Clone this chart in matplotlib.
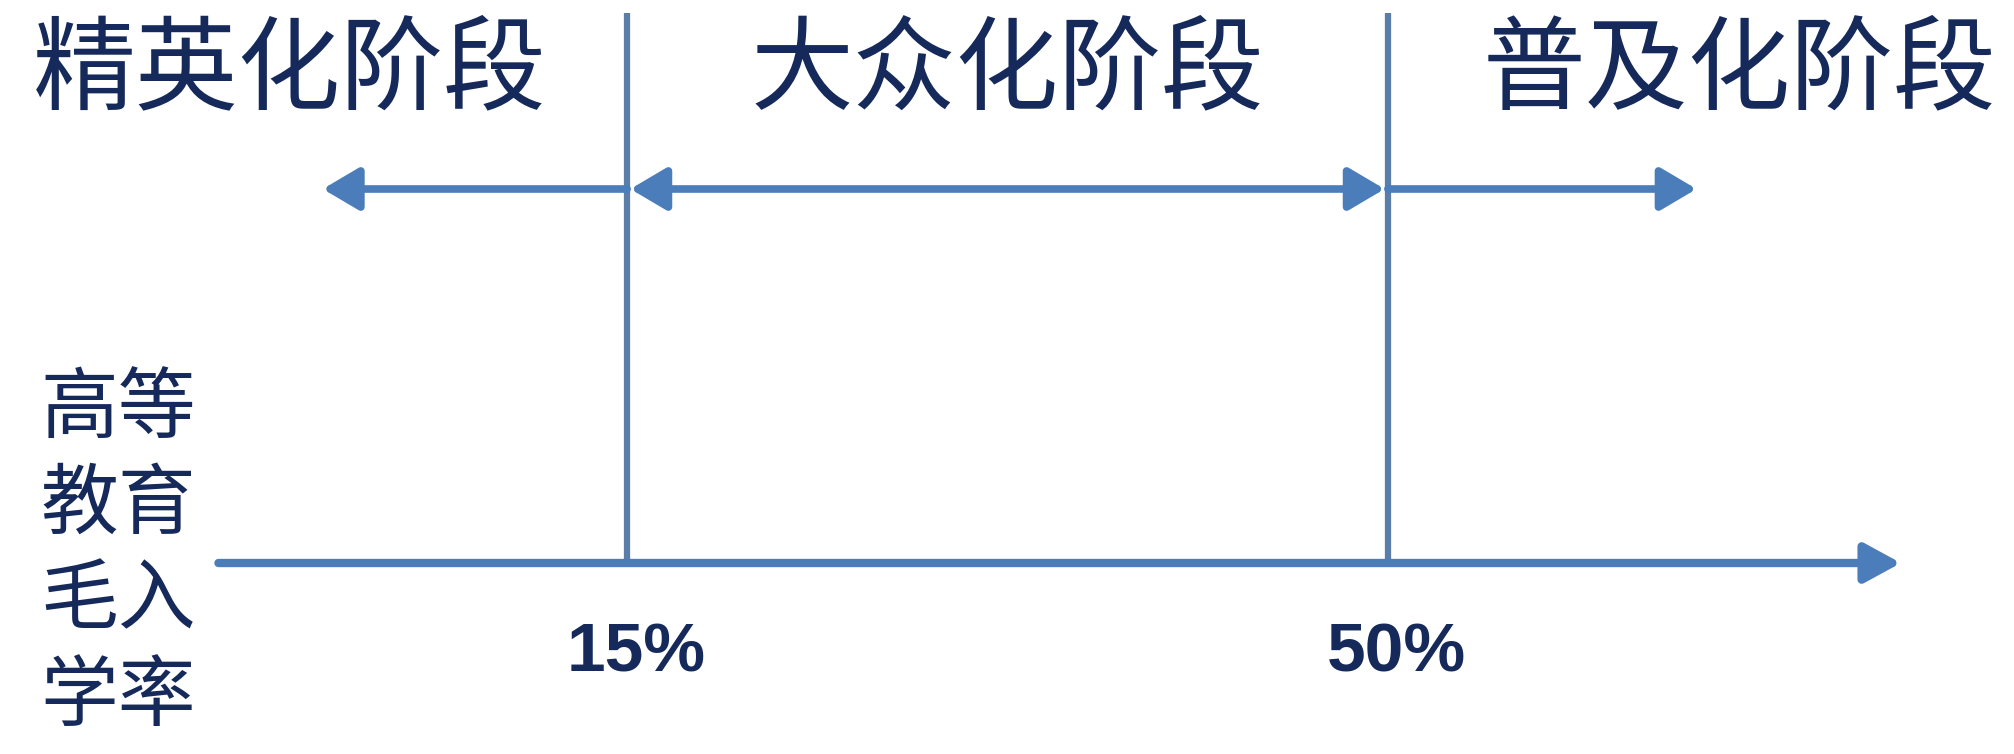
import matplotlib.pyplot as plt

plt.rcParams['font.family'] = ['Noto Sans CJK SC', 'DejaVu Sans']

# stages of higher education, split by gross enrolment rate (%)
stages = ["精英化阶段", "大众化阶段", "普及化阶段"]
thresholds = [15, 50]
threshold_labels = ["15%", "50%"]
axis_label = ["高等", "教育", "毛入", "学率"]

text_color = "#15295a"
arrow_color = "#4a7dba"
vline_color = "#5a7ea8"

fig = plt.figure(figsize=(20.15, 7.54), dpi=100)
ax = fig.add_axes([0, 0, 1, 1])
# x in percent, y in pixels from the top
ax.set_xlim(-13.85, 78.85)
ax.set_ylim(754, 0)
ax.axis("off")

lo, hi = thresholds
axis_y = 563
arrow_y = 189

# main horizontal axis
ax.annotate("", xy=(73.6, axis_y), xytext=(-3.8, axis_y),
            arrowprops=dict(arrowstyle="-|>,head_length=1.1,head_width=0.6",
                            lw=6, color=arrow_color, mutation_scale=20,
                            shrinkA=0, shrinkB=0))

# vertical threshold lines
for t in thresholds:
    ax.plot([t, t], [13, axis_y], color=vline_color, lw=4.5, solid_capstyle="butt")

# stage arrows
style = "-|>,head_length=1.1,head_width=0.65"
ap = dict(lw=5.5, color=arrow_color, mutation_scale=20, shrinkA=0, shrinkB=0)
ax.annotate("", xy=(lo - 14, arrow_y), xytext=(lo, arrow_y),
            arrowprops=dict(arrowstyle=style, **ap))
ax.annotate("", xy=(hi - 0.15, arrow_y), xytext=(lo + 0.15, arrow_y),
            arrowprops=dict(arrowstyle="<|-|>,head_length=1.1,head_width=0.65", **ap))
ax.annotate("", xy=(hi + 14.2, arrow_y), xytext=(hi, arrow_y),
            arrowprops=dict(arrowstyle=style, **ap))

# stage titles
stage_x = [lo - 15.5, (lo + hi) / 2, hi + 16.2]
for x, s in zip(stage_x, stages):
    ax.text(x, 72, s, fontsize=74, fontweight="medium", color=text_color,
            ha="center", va="center")

# threshold labels
for t, lab in zip(thresholds, threshold_labels):
    ax.text(t + 0.4, 653, lab, fontsize=50, fontweight="bold", color=text_color,
            ha="center", va="center", family="Liberation Sans")

# vertical axis label
for i, row in enumerate(axis_label):
    ax.text(-8.4, 410 + i * 96, row, fontsize=56, fontweight="medium",
            color=text_color, ha="center", va="center")

fig.savefig("out.png", dpi=100, facecolor="white")
